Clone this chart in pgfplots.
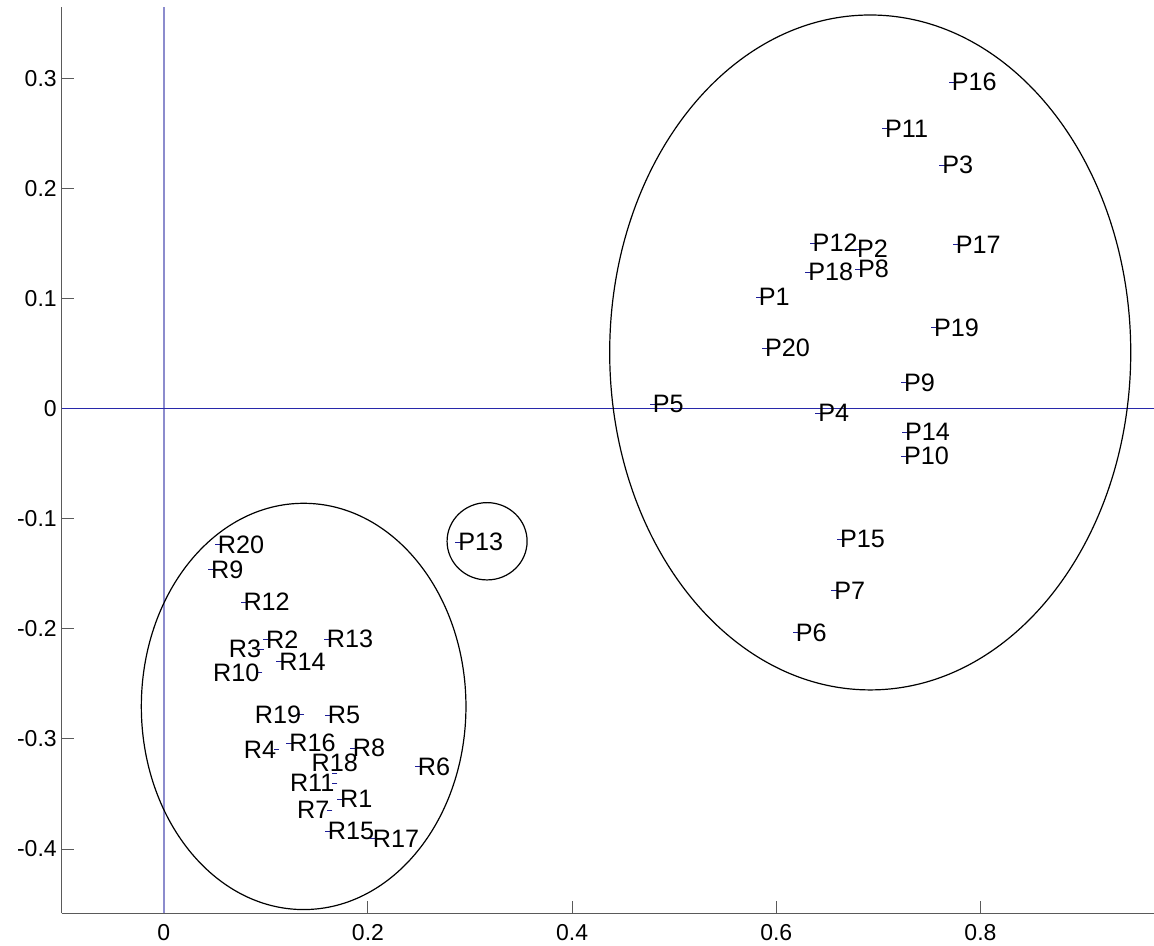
\documentclass[border=0pt]{standalone}
\usepackage{fontspec}
\setmainfont{Liberation Sans}
\usepackage{pgfplots}
\usepackage{pgfplotstable}
\pgfplotsset{compat=1.18}
\definecolor{ptblue}{RGB}{30,30,150}
\definecolor{hblue}{RGB}{40,40,170}
\definecolor{vblue}{RGB}{140,140,205}
\definecolor{axgray}{RGB}{90,90,90}

\pgfplotstableread{
x y label
0.7715 0.2964 P16
0.7062 0.2542 P11
0.7623 0.2213 P3
0.6353 0.1504 P12
0.6787 0.1450 P2
0.6797 0.1268 P8
0.7754 0.1489 P17
0.6310 0.1238 P18
0.5825 0.1011 P1
0.7542 0.0735 P19
0.5886 0.0548 P20
0.7248 0.0235 P9
0.4786 0.0042 P5
0.6408 -0.0040 P4
0.7258 -0.0215 P14
0.7248 -0.0431 P10
0.6621 -0.1187 P15
0.6565 -0.1654 P7
0.6187 -0.2035 P6
0.2882 -0.1214 P13
0.0526 -0.1233 R20
0.0460 -0.1460 R9
0.0777 -0.1757 R12
0.0999 -0.2095 R2
0.1594 -0.2093 R13
0.1129 -0.2299 R14
0.1603 -0.2783 R5
0.1227 -0.3040 R16
0.1848 -0.3085 R8
0.2485 -0.3252 R6
0.1724 -0.3548 R1
0.1603 -0.3836 R15
0.2044 -0.3905 R17
}\ptsW

\pgfplotstableread{
x y label
0.0957 -0.2186 R3
0.0940 -0.2399 R10
0.1349 -0.2780 R19
0.1104 -0.3095 R4
0.1675 -0.3403 R11
0.1626 -0.3646 R7
}\ptsE

\pgfplotstableread{
x y label
0.1675 -0.3313 R18
}\ptsS

\begin{document}
\begin{tikzpicture}
\begin{axis}[name=ax,
  scale only axis, width=546.15bp, height=453bp,
  xmin=-0.1, xmax=0.97, ymin=-0.4584, ymax=0.3645,
  axis lines*=left,
  axis line style={-, draw=axgray, line width=0.6bp},
  tick align=inside,
  major tick length=6bp,
  tick style={axgray, line width=0.5bp},
  xtick={0,0.2,0.4,0.6,0.8},
  xticklabels={0,0.2,0.4,0.6,0.8},
  ytick={-0.4,-0.3,-0.2,-0.1,0,0.1,0.2,0.3},
  yticklabels={-0.4,-0.3,-0.2,-0.1,0,0.1,0.2,0.3},
  ticklabel style={font=\fontsize{11.5bp}{13bp}\selectfont, text=black},
  xticklabel style={inner sep=0pt, yshift=-5.5bp},
  yticklabel style={inner sep=0pt, xshift=-2.3bp},
  point meta=explicit symbolic,
]
\addplot[vblue, line width=0.9bp, forget plot] coordinates {(0,-0.4584) (0,0.3645)};
\addplot[hblue, line width=0.6bp, forget plot] coordinates {(-0.1,0) (0.97,0)};

\draw[black, line width=0.6bp] (axis cs:0.692,0.051) ellipse [x radius=0.2552, y radius=0.3065];
\draw[black, line width=0.6bp] (axis cs:0.137,-0.2705) ellipse [x radius=0.159, y radius=0.1845];
\draw[black, line width=0.6bp] (axis cs:0.3167,-0.1205) ellipse [x radius=0.0392, y radius=0.0351];

\addplot[only marks, mark=-, mark size=1.3bp, ptblue,
  nodes near coords,
  every node near coord/.append style={anchor=west, inner sep=0pt, text=black,
    font=\fontsize{12.6bp}{14bp}\selectfont}]
  table[x=x, y=y, meta=label] {\ptsW};
\addplot[only marks, mark=-, mark size=1.3bp, ptblue,
  nodes near coords,
  every node near coord/.append style={anchor=east, inner sep=0pt, text=black,
    font=\fontsize{12.6bp}{14bp}\selectfont}]
  table[x=x, y=y, meta=label] {\ptsE};
\addplot[only marks, mark=-, mark size=1.3bp, ptblue,
  nodes near coords,
  every node near coord/.append style={anchor=south, inner sep=0pt, yshift=0.5bp, text=black,
    font=\fontsize{12.6bp}{14bp}\selectfont}]
  table[x=x, y=y, meta=label] {\ptsS};
\end{axis}
\pgfresetboundingbox
\path ([xshift=-30.85bp, yshift=-15.85bp]ax.south west) rectangle ([yshift=3.65bp]ax.north east);
\end{tikzpicture}
\end{document}
